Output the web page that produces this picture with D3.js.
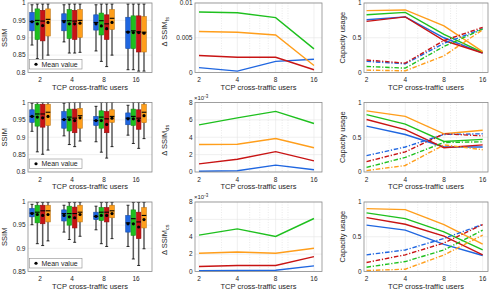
<!DOCTYPE html>
<html>
<head>
<meta charset="utf-8">
<script src="https://cdn.jsdelivr.net/npm/d3@7"></script>
<style>
body { margin: 0; background: #fff; }
text { font-family: "Liberation Sans", Arial, sans-serif; fill: #262626; }
</style>
</head>
<body>
<svg id="chart" width="491" height="291"></svg>
<script>
var users = [2, 4, 8, 16];
var colors = ["#1f66e0", "#1ec01e", "#c81414", "#ff9e1b"];
var minorTicks = [3, 5, 6, 7, 9, 10];

// box stats: [low whisker, q1, median, q3, high whisker, mean], per group, per colour
var box1 = [
    [[.879, .920, .947, .973, .995, .946], [.840, .895, .950, .983, .997, .940], [.835, .891, .948, .979, .997, .935], [.850, .905, .953, .983, .997, .944]],
    [[.888, .920, .949, .969, .995, .946], [.856, .898, .949, .981, .997, .940], [.856, .895, .948, .979, .997, .940], [.858, .901, .950, .981, .997, .942]],
    [[.862, .922, .944, .966, .995, .940], [.832, .908, .949, .971, .997, .934], [.817, .895, .940, .966, .997, .926], [.850, .924, .956, .981, .997, .944]],
    [[.808, .869, .917, .959, .997, .916], [.808, .869, .920, .963, .997, .915], [.804, .859, .917, .963, .997, .915], [.804, .859, .916, .961, .997, .913]]
];
var box2 = [
    [[.917, .943, .960, .979, .998, .960], [.858, .932, .967, .995, 1, .958], [.851, .929, .967, .995, 1, .956], [.863, .934, .972, .995, 1, .960]],
    [[.904, .926, .951, .974, .998, .951], [.879, .918, .958, .981, 1, .951], [.873, .913, .955, .981, 1, .948], [.889, .926, .962, .983, 1, .956]],
    [[.887, .934, .948, .960, .989, .948], [.857, .926, .958, .976, 1, .948], [.840, .913, .953, .974, 1, .937], [.873, .943, .960, .979, 1, .955]],
    [[.906, .936, .955, .970, .992, .953], [.882, .934, .960, .981, 1, .953], [.868, .923, .955, .979, 1, .948], [.896, .942, .972, .995, 1, .962]]
];
var box3 = [
    [[.951, .968, .976, .986, .995, .975], [.910, .955, .978, .993, .999, .973], [.906, .953, .981, .993, .999, .971], [.916, .957, .981, .993, .999, .973]],
    [[.935, .959, .975, .983, .993, .971], [.919, .950, .975, .991, .999, .968], [.913, .944, .975, .989, .999, .966], [.926, .957, .978, .993, .999, .973]],
    [[.940, .962, .969, .978, .991, .969], [.910, .960, .978, .988, .999, .971], [.904, .957, .978, .988, .999, .971], [.921, .966, .981, .993, .999, .975]],
    [[.904, .935, .955, .971, .993, .953], [.877, .928, .964, .983, .999, .953], [.863, .921, .957, .978, .999, .946], [.899, .944, .971, .988, .999, .962]]
];

// delta SSIM, one array per colour (blue, green, red, orange)
var dssim1 = [[.0007, .0002, .0016, .0019], [.0087, .0086, .0079, .0034], [.00245, .0022, .0022, .0004], [.0059, .0058, .0054, .001]];
var dssim2 = [[0.08, 0.15, 0.79, 0.26], [5.43, 6.23, 6.98, 5.58], [0.94, 1.47, 2.34, 1.28], [3.17, 3.2, 3.85, 2.79]];
var dssim3 = [[0.08, 0.11, 0.15, 0.65], [4.19, 4.91, 4.04, 6.1], [0.57, 0.69, 0.69, 1.71], [2.1, 2.25, 2.1, 2.67]];

// capacity usage, solid (video) and dash-dot (TCP), per colour
var capSolid1 = [[.76, .80, .50, .28], [.83, .865, .55, .29], [.735, .80, .46, .28], [.89, .90, .67, .30]];
var capDash1 = [[.16, .125, .42, .63], [.087, .063, .375, .625], [.18, .135, .46, .65], [.034, .024, .24, .615]];
var capSolid2 = [[.66, .54, .36, .36], [.825, .69, .44, .47], [.755, .61, .35, .39], [.88, .80, .55, .60]];
var capDash2 = [[.235, .36, .54, .55], [.066, .21, .425, .434], [.15, .29, .55, .52], [.02, .094, .39, .32]];
var capSolid3 = [[.667, .595, .39, .23], [.843, .76, .57, .31], [.776, .68, .51, .24], [.905, .89, .675, .395]];
var capDash3 = [[.24, .31, .476, .676], [.062, .143, .31, .595], [.13, .24, .41, .676], [.014, .033, .238, .524]];

var svg = d3.select("#chart");
var rowTop = [3, 102.5, 202];
var rowH = 69.5;
var tickSize = 6.5, labelSize = 7.5;

function ylabel(x, y, main, sub) {
    var t = svg.append("text")
        .attr("transform", "translate(" + x + "," + y + ") rotate(-90)")
        .attr("text-anchor", "middle")
        .attr("font-size", labelSize)
        .text(main);
    if (sub) {
        t.append("tspan").attr("baseline-shift", "-30%").attr("font-size", 5.5).text(sub);
    }
}

function xlabels(x, ticks, bottom, x0, x1) {
    svg.append("g").selectAll("text").data(ticks).enter().append("text")
        .attr("x", function (d) { return x(d); })
        .attr("y", bottom + 9.5)
        .attr("text-anchor", "middle")
        .attr("font-size", tickSize)
        .text(function (d) { return d; });
    svg.append("text")
        .attr("x", (x0 + x1) / 2)
        .attr("y", bottom + 17.3)
        .attr("text-anchor", "middle")
        .attr("font-size", labelSize)
        .text("TCP cross-traffic users");
}

function yaxis(y, ticks, fmt, left, right) {
    var g = svg.append("g");
    g.selectAll("line").data(ticks).enter().append("line")
        .attr("x1", left).attr("x2", right)
        .attr("y1", function (d) { return y(d); })
        .attr("y2", function (d) { return y(d); })
        .attr("stroke", "#e6e6e6").attr("stroke-width", 0.6);
    g.selectAll("text").data(ticks).enter().append("text")
        .attr("x", left - 2.5)
        .attr("y", function (d) { return y(d); })
        .attr("dy", "0.35em")
        .attr("text-anchor", "end")
        .attr("font-size", tickSize)
        .text(fmt);
}

function frame(x0, x1, y0, y1) {
    svg.append("rect")
        .attr("x", x0).attr("y", y0)
        .attr("width", x1 - x0).attr("height", y1 - y0)
        .attr("fill", "none").attr("stroke", "#8c8c8c").attr("stroke-width", 0.8);
}

// ---- box plot column ----
function boxPlot(row, data, domain, ticks) {
    var top = rowTop[row], bottom = top + rowH;
    var x = d3.scaleLinear().domain([-0.75, 22.5]).range([28, 152]);
    var y = d3.scaleLinear().domain(domain).range([bottom, top]);
    yaxis(y, ticks, function (d) { return d; }, 28, 152);
    var bw = 4.6;
    data.forEach(function (group, gi) {
        group.forEach(function (s, j) {
            var cx = x(gi * 6 + j);
            var g = svg.append("g");
            g.append("line").attr("x1", cx).attr("x2", cx)
                .attr("y1", y(s[0])).attr("y2", y(s[4]))
                .attr("stroke", "#5a5a5a").attr("stroke-width", 1.5);
            [s[0], s[4]].forEach(function (v) {
                g.append("line").attr("x1", cx - 1.5).attr("x2", cx + 1.5)
                    .attr("y1", y(v)).attr("y2", y(v))
                    .attr("stroke", "#000").attr("stroke-width", 0.8);
            });
            g.append("rect")
                .attr("x", cx - bw / 2).attr("y", y(s[3]))
                .attr("width", bw).attr("height", y(s[1]) - y(s[3]))
                .attr("fill", colors[j])
                .attr("stroke", d3.color(colors[j]).darker(0.8))
                .attr("stroke-width", 0.6);
            g.append("line").attr("x1", cx - bw / 2).attr("x2", cx + bw / 2)
                .attr("y1", y(s[2])).attr("y2", y(s[2]))
                .attr("stroke", "#000").attr("stroke-width", 1.1);
            g.append("circle").attr("cx", cx).attr("cy", y(s[5])).attr("r", 1.6).attr("fill", "#000");
        });
    });
    frame(28, 152, top, bottom);
    // legend
    var ly = bottom - 13;
    svg.append("rect").attr("x", 29.5).attr("y", ly).attr("width", 52.5).attr("height", 9.5)
        .attr("fill", "#fff").attr("stroke", "#8c8c8c").attr("stroke-width", 0.6);
    svg.append("circle").attr("cx", 36).attr("cy", ly + 4.75).attr("r", 1.6).attr("fill", "#000");
    svg.append("text").attr("x", 41.5).attr("y", ly + 7.2).attr("font-size", 7).text("Mean value");
    xlabels(function (d) { return x(users.indexOf(d) * 6 + 1.5); }, users, bottom, 28, 152);
    ylabel(7, (top + bottom) / 2, "SSIM");
}

// ---- line plot columns ----
function linePlot(row, x0, x1, xdom, ydom, yticks, fmt, series, dashed) {
    var top = rowTop[row], bottom = top + rowH;
    var x = d3.scaleLog().base(2).domain(xdom).range([x0, x1]);
    var y = d3.scaleLinear().domain(ydom).range([bottom, top]);
    yaxis(y, yticks, fmt, x0, x1);
    svg.append("g").selectAll("line").data(minorTicks).enter().append("line")
        .attr("x1", function (d) { return x(d); }).attr("x2", function (d) { return x(d); })
        .attr("y1", top).attr("y2", bottom)
        .attr("stroke", "#dcdcdc").attr("stroke-width", 0.6).attr("stroke-dasharray", "1,1.5");
    svg.append("g").selectAll("line").data(users).enter().append("line")
        .attr("x1", function (d) { return x(d); }).attr("x2", function (d) { return x(d); })
        .attr("y1", top).attr("y2", bottom)
        .attr("stroke", "#e6e6e6").attr("stroke-width", 0.6);
    var line = d3.line()
        .x(function (d, i) { return x(users[i]); })
        .y(function (d) { return y(d); });
    series.forEach(function (set, k) {
        set.forEach(function (vals, c) {
            svg.append("path").datum(vals)
                .attr("d", line)
                .attr("fill", "none")
                .attr("stroke", colors[c])
                .attr("stroke-width", 1.4)
                .attr("stroke-dasharray", dashed[k] ? "4.5,1.8,1.2,1.8" : null);
        });
    });
    frame(x0, x1, top, bottom);
    xlabels(x, users, bottom, x0, x1);
}

boxPlot(0, box1, [0.8, 1], [0.8, 0.85, 0.9, 0.95, 1]);
boxPlot(1, box2, [0.8, 1], [0.8, 0.85, 0.9, 0.95, 1]);
boxPlot(2, box3, [0.85, 1], [0.85, 0.9, 0.95, 1]);

var midX = [195, 322], midDom = [1.86, 18.5];
var rightX = [364, 488], rightDom = [1.91, 17.6];

linePlot(0, midX[0], midX[1], midDom, [0, 0.01], [0, 0.005, 0.01], function (d) { return d; }, [dssim1], [false]);
linePlot(1, midX[0], midX[1], midDom, [0, 8], [0, 2, 4, 6, 8], function (d) { return d; }, [dssim2], [false]);
linePlot(2, midX[0], midX[1], midDom, [0, 8], [0, 2, 4, 6, 8], function (d) { return d; }, [dssim3], [false]);

[["\u0394 SSIM", "fs"], ["\u0394 SSIM", "ds"], ["\u0394 SSIM", "cs"]].forEach(function (l, r) {
    ylabel(167, rowTop[r] + rowH / 2 - (r === 0 ? 6 : -3), l[0], l[1]);
});
[1, 2].forEach(function (r) {
    var t = svg.append("text").attr("x", 194).attr("y", rowTop[r] - 3).attr("font-size", 6).text("\u00d710");
    t.append("tspan").attr("baseline-shift", "super").attr("font-size", 4.5).text("-3");
});

var capFmt = function (d) { return d === 0.5 ? "0.5" : d; };
linePlot(0, rightX[0], rightX[1], rightDom, [0, 1], [0, 0.5, 1], capFmt, [capSolid1, capDash1], [false, true]);
linePlot(1, rightX[0], rightX[1], rightDom, [0, 1], [0, 0.5, 1], capFmt, [capSolid2, capDash2], [false, true]);
linePlot(2, rightX[0], rightX[1], rightDom, [0, 1], [0, 0.5, 1], capFmt, [capSolid3, capDash3], [false, true]);
[0, 1, 2].forEach(function (r) {
    ylabel(345, rowTop[r] + rowH / 2, "Capacity usage");
});
</script>
</body>
</html>
